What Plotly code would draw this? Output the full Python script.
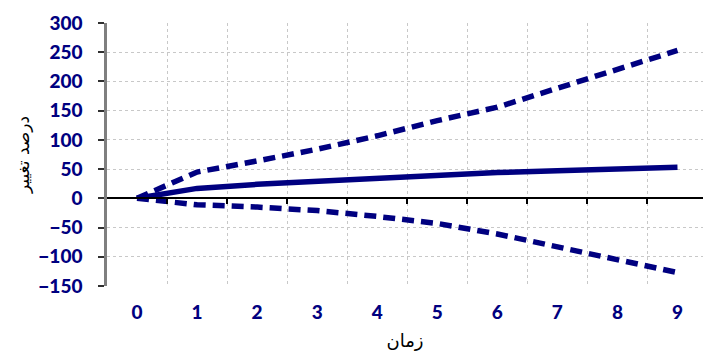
import plotly.graph_objects as go

# Time periods (x) and percentage-change series
periods = [0, 1, 2, 3, 4, 5, 6, 7, 8, 9]
central = [0, 17, 24, 29, 35, 40, 44, 47, 51, 53]
upper_band = [0, 45, 64, 84, 107, 133, 156, 188, 219, 253]
lower_band = [0, -11, -15, -21, -31, -43, -61, -83, -106, -127]

y_ticks = [300, 250, 200, 150, 100, 50, 0, -50, -100, -150]
x_tick_labels = [str(p) for p in periods]
grid_positions = [p + 0.5 for p in periods]

NAVY = "#000080"
TICK_FONT = dict(family="Lato, 'Open Sans', sans-serif", size=19, color=NAVY, weight=900)
X_RANGE = [-0.5, 9.425]

fig = go.Figure()

fig.add_trace(go.Scatter(x=periods, y=upper_band, mode="lines",
                         line=dict(color=NAVY, width=5.5, dash="12px,7px"),
                         hoverinfo="skip", showlegend=False))
fig.add_trace(go.Scatter(x=periods, y=lower_band, mode="lines",
                         line=dict(color=NAVY, width=5.5, dash="12px,7px"),
                         hoverinfo="skip", showlegend=False))
fig.add_trace(go.Scatter(x=periods, y=central, mode="lines",
                         line=dict(color=NAVY, width=5.5),
                         hoverinfo="skip", showlegend=False))
# companion axis carrying the vertical grid and the tick marks on the zero line
fig.add_trace(go.Scatter(x=periods, y=central, mode="markers", xaxis="x2",
                         marker=dict(opacity=0), hoverinfo="skip", showlegend=False))

fig.update_layout(
    width=703, height=353,
    margin=dict(l=107, r=0, t=23, b=67),
    plot_bgcolor="white", paper_bgcolor="white",
    xaxis=dict(
        range=X_RANGE, tickmode="array", tickvals=periods, ticktext=x_tick_labels,
        showgrid=False, zeroline=False, showline=False, ticks="",
        tickfont=TICK_FONT, ticklabelstandoff=13,
        title=dict(text="زمان", font=dict(family="DejaVu Serif, DejaVu Sans", size=18, color="black"),
                   standoff=12),
    ),
    xaxis2=dict(
        range=X_RANGE, overlaying="x", anchor="free", position=1/3, side="bottom",
        tickmode="array", tickvals=grid_positions, showticklabels=False,
        showgrid=True, gridcolor="#c8c8c8", griddash="dot", gridwidth=1,
        ticks="outside", ticklen=5, tickcolor="black", tickwidth=1.5,
        showline=True, linecolor="black", linewidth=1.5, zeroline=False,
    ),
    yaxis=dict(
        range=[-150, 300], tickmode="array", tickvals=y_ticks,
        showgrid=True, gridcolor="#c8c8c8", griddash="dot", gridwidth=1,
        zeroline=False, showline=True, linecolor="#7f7f7f", linewidth=2.5,
        ticks="outside", ticklen=6, tickcolor="#303030", tickwidth=1.5,
        tickfont=TICK_FONT, ticklabelstandoff=12,
        title=dict(text="درصد تغییر", font=dict(family="DejaVu Serif, DejaVu Sans", size=17, color="black"),
                   standoff=5),
    ),
)

fig.write_html("out.html")
